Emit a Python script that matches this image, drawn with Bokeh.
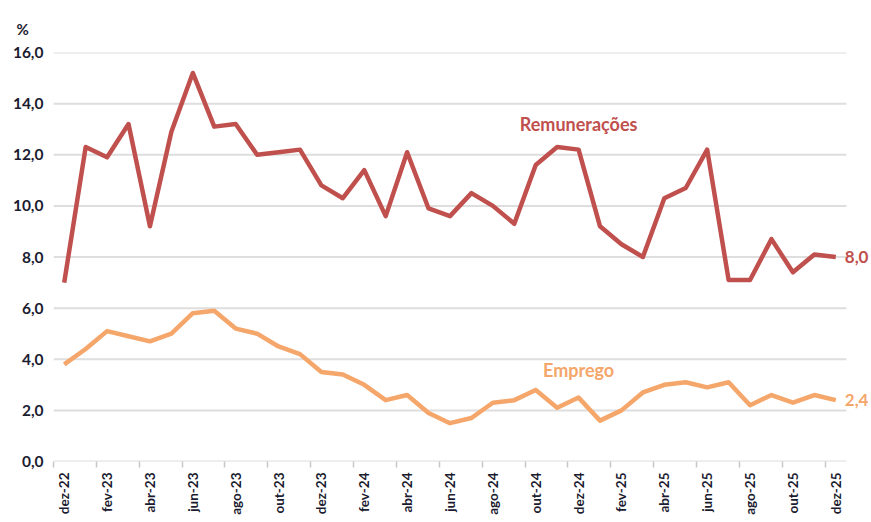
from bokeh.plotting import figure
from bokeh.models import Range1d, FixedTicker, Label, ColumnDataSource
from bokeh.embed import file_html
from bokeh.resources import INLINE
import math

months = ["dez-22", "jan-23", "fev-23", "mar-23", "abr-23", "mai-23", "jun-23", "jul-23",
          "ago-23", "set-23", "out-23", "nov-23", "dez-23", "jan-24", "fev-24", "mar-24",
          "abr-24", "mai-24", "jun-24", "jul-24", "ago-24", "set-24", "out-24", "nov-24",
          "dez-24", "jan-25", "fev-25", "mar-25", "abr-25", "mai-25", "jun-25", "jul-25",
          "ago-25", "set-25", "out-25", "nov-25", "dez-25"]

remuneracoes = [7.0, 12.3, 11.9, 13.2, 9.2, 12.9, 15.2, 13.1, 13.2, 12.0, 12.1, 12.2,
                10.8, 10.3, 11.4, 9.6, 12.1, 9.9, 9.6, 10.5, 10.0, 9.3, 11.6, 12.3,
                12.2, 9.2, 8.5, 8.0, 10.3, 10.7, 12.2, 7.1, 7.1, 8.7, 7.4, 8.1, 8.0]

emprego = [3.8, 4.4, 5.1, 4.9, 4.7, 5.0, 5.8, 5.9, 5.2, 5.0, 4.5, 4.2,
           3.5, 3.4, 3.0, 2.4, 2.6, 1.9, 1.5, 1.7, 2.3, 2.4, 2.8, 2.1,
           2.5, 1.6, 2.0, 2.7, 3.0, 3.1, 2.9, 3.1, 2.2, 2.6, 2.3, 2.6, 2.4]

y_ticks = [0, 2, 4, 6, 8, 10, 12, 14, 16]
y_tick_labels = ["0,0", "2,0", "4,0", "6,0", "8,0", "10,0", "12,0", "14,0", "16,0"]

RED = "#C0504D"
ORANGE = "#F5A66A"
FONT = "Lato"
TXT = "#1c1c30"

x = list(range(len(months)))
n = len(months)
src = ColumnDataSource(dict(x=x, rem=remuneracoes, emp=emprego))
grid_src = ColumnDataSource(dict(x0=[-0.5] * len(y_ticks), x1=[n - 0.5] * len(y_ticks),
                                 y=y_ticks))

p = figure(width=870, height=521, output_backend="svg", toolbar_location=None,
           x_range=Range1d(-0.5, n + 0.62), y_range=Range1d(0, 16),
           min_border_left=53, min_border_right=0, min_border_top=52, min_border_bottom=60)
p.outline_line_color = None
p.background_fill_color = "white"

# horizontal grid lines, ending at the last category
p.segment(x0="x0", x1="x1", y0="y", y1="y", source=grid_src, line_color="#dedede",
          line_width=2)

p.line("x", "emp", source=src, line_color=ORANGE, line_width=4.5, line_join="round")
p.line("x", "rem", source=src, line_color=RED, line_width=4.5, line_join="round")

# x axis
p.xaxis.ticker = FixedTicker(ticks=x[::2], minor_ticks=[i - 0.5 for i in x[::2]])
p.xaxis.major_label_overrides = {i: months[i] for i in x[::2]}
p.xaxis.major_label_orientation = math.pi / 2
p.xaxis.major_tick_line_color = None
p.xaxis.minor_tick_line_color = "#c8c8c8"
p.xaxis.minor_tick_line_width = 1.5
p.xaxis.minor_tick_in = 0
p.xaxis.minor_tick_out = 6
p.xaxis.axis_line_color = None
p.xaxis.major_label_standoff = 5
p.xaxis.major_label_text_font = FONT
p.xaxis.major_label_text_font_style = "bold"
p.xaxis.major_label_text_font_size = "13.5px"
p.xaxis.major_label_text_color = TXT

# y axis
p.yaxis.ticker = FixedTicker(ticks=y_ticks)
p.yaxis.major_label_overrides = dict(zip(y_ticks, y_tick_labels))
p.yaxis.axis_line_color = None
p.yaxis.major_tick_line_color = None
p.yaxis.minor_tick_line_color = None
p.yaxis.major_label_standoff = 4
p.yaxis.major_label_text_font = FONT
p.yaxis.major_label_text_font_style = "bold"
p.yaxis.major_label_text_font_size = "15.5px"
p.yaxis.major_label_text_color = TXT

p.xgrid.grid_line_color = None
p.ygrid.grid_line_color = None

# "%" unit label as the title
p.title.text = "%"
p.title.align = "left"
p.title.offset = -37
p.title.standoff = 29
p.title.text_font = FONT
p.title.text_font_style = "bold"
p.title.text_font_size = "15px"
p.title.text_color = TXT

# annotations
p.add_layout(Label(x=24.0, y=13.2, text="Remunerações", text_font=FONT,
                   text_font_style="bold", text_font_size="18px", text_color=RED,
                   text_align="center", text_baseline="middle"))
p.add_layout(Label(x=24.0, y=3.56, text="Emprego", text_font=FONT,
                   text_font_style="bold", text_font_size="18px", text_color=ORANGE,
                   text_align="center", text_baseline="middle"))
p.add_layout(Label(x=x[-1], y=remuneracoes[-1], x_offset=9, text="8,0", text_font=FONT,
                   text_font_style="bold", text_font_size="17px", text_color=RED,
                   text_baseline="middle"))
p.add_layout(Label(x=x[-1], y=emprego[-1], x_offset=9, text="2,4", text_font=FONT,
                   text_font_style="bold", text_font_size="17px", text_color=ORANGE,
                   text_baseline="middle"))

open("out.html", "w").write(file_html(p, INLINE))
